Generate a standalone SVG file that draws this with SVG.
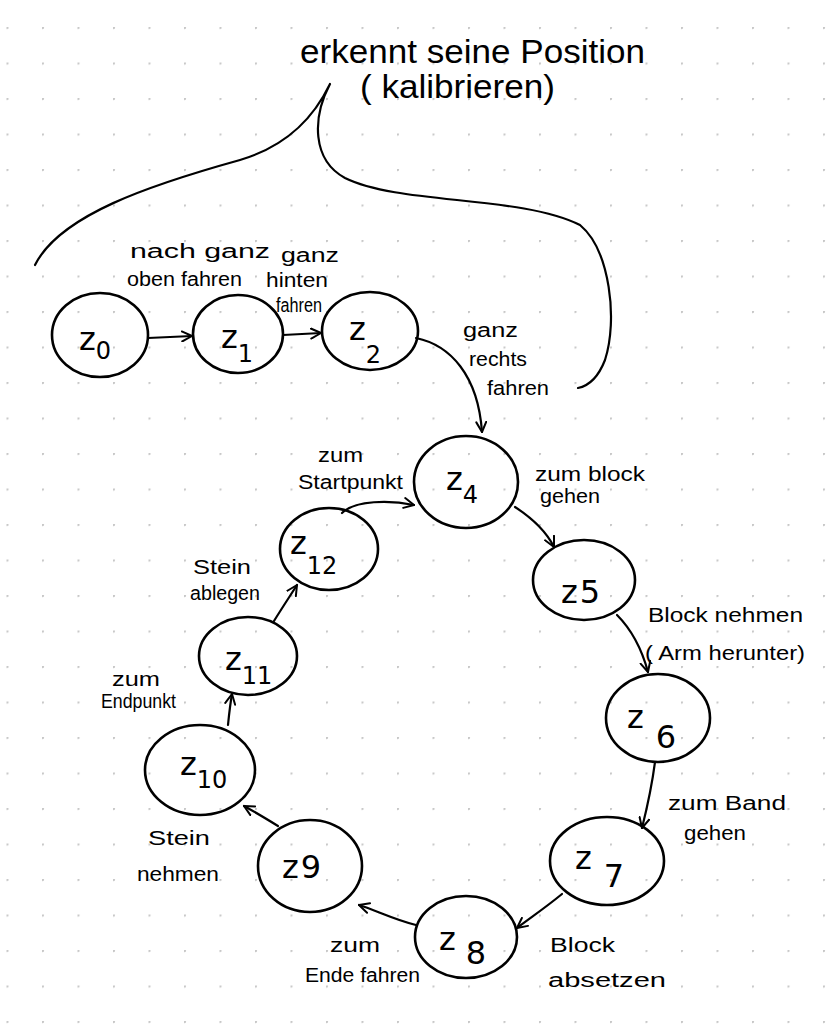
<svg xmlns="http://www.w3.org/2000/svg" width="831" height="1024" viewBox="0 0 831 1024">
<defs>
<pattern id="dots" x="6.5" y="27" width="35.5" height="35.5" patternUnits="userSpaceOnUse">
<circle cx="0.8" cy="0.8" r="1.3" fill="#c8c8c8"/>
</pattern>
<marker id="arr" viewBox="0 0 12 12" refX="11" refY="6" markerWidth="12" markerHeight="12" markerUnits="userSpaceOnUse" orient="auto">
<path d="M1,1 L11,6 L1,11" fill="none" stroke="#000" stroke-width="2" stroke-linecap="round" stroke-linejoin="round"/>
</marker>
<style>
.n{fill:none;stroke:#000;stroke-width:2.6}
.c{fill:none;stroke:#000;stroke-width:2.2;marker-end:url(#arr);stroke-linecap:round}
.b{fill:none;stroke:#000;stroke-width:2.2;stroke-linecap:round;stroke-linejoin:round}
.z{font-family:"DejaVu Sans",sans-serif;font-size:32px;fill:#000}
.s{font-size:24px}
.t{font-family:"Liberation Sans",sans-serif;font-size:20px;fill:#000}
.h{font-family:"Liberation Sans",sans-serif;font-size:34px;fill:#000}
</style>
</defs>
<rect width="831" height="1024" fill="#fff"/>
<rect width="831" height="1024" fill="url(#dots)"/>

<g id="callout">
<path class="b" d="M35,265 C60,215 150,185 240,160 C290,145 315,115 330,84 C312,118 312,160 345,178 C400,205 520,195 580,225 C610,250 618,320 605,360 C598,378 588,386 578,388"/>
<text class="h" x="300" y="63" textLength="345" lengthAdjust="spacingAndGlyphs">erkennt seine Position</text>
<text class="h" x="360" y="98" font-size="28" textLength="195" lengthAdjust="spacingAndGlyphs">( kalibrieren)</text>
</g>

<g id="connectors">
<path class="c" d="M148,338 L192,336"/>
<path class="c" d="M283,335 L321,333"/>
<path class="c" d="M416,338 C450,345 478,375 482,432"/>
<path class="c" d="M515,507 C535,520 548,535 554,547"/>
<path class="c" d="M617,615 C632,630 642,650 648,672"/>
<path class="c" d="M655,762 C652,785 647,808 642,828"/>
<path class="c" d="M562,894 C545,908 530,918 517,928"/>
<path class="c" d="M416,925 C395,920 375,910 359,905"/>
<path class="c" d="M278,826 C265,818 255,812 244,806"/>
<path class="c" d="M228,725 C229,715 230,705 232,694"/>
<path class="c" d="M274,621 C282,608 290,596 297,585"/>
<path class="c" d="M342,513 C355,500 390,500 414,505"/>
</g>

<g id="z0"><ellipse class="n" cx="100" cy="335" rx="48" ry="42"/><text class="z" x="79" y="350">z<tspan class="s" dy="9">0</tspan></text></g>
<g id="z1"><ellipse class="n" cx="238" cy="334" rx="45" ry="39"/><text class="z" x="221" y="348">z<tspan class="s" dy="14">1</tspan></text></g>
<g id="z2"><ellipse class="n" cx="370" cy="331" rx="48" ry="39"/><text class="z" x="349" y="340">z<tspan class="s" dy="23">2</tspan></text></g>
<g id="z4"><ellipse class="n" cx="466" cy="482" rx="52" ry="46"/><text class="z" x="446" y="490">z<tspan class="s" dy="13">4</tspan></text></g>
<g id="z5"><ellipse class="n" cx="584" cy="580" rx="51" ry="40"/><text class="z" x="561" y="603">z<tspan dx="2">5</tspan></text></g>
<g id="z6"><ellipse class="n" cx="658" cy="718" rx="52" ry="44"/><text class="z" x="627" y="728">z<tspan dx="12" dy="20">6</tspan></text></g>
<g id="z7"><ellipse class="n" cx="607" cy="861" rx="57" ry="44"/><text class="z" x="575" y="869">z<tspan dx="12" dy="18">7</tspan></text></g>
<g id="z8"><ellipse class="n" cx="466" cy="937" rx="51" ry="41"/><text class="z" x="439" y="950">z<tspan dx="10" dy="14">8</tspan></text></g>
<g id="z9"><ellipse class="n" cx="310" cy="866" rx="52" ry="46"/><text class="z" x="282" y="878">z<tspan dx="2">9</tspan></text></g>
<g id="z10"><ellipse class="n" cx="200" cy="770" rx="55" ry="45"/><text class="z" x="180" y="775">z<tspan class="s" dy="13">10</tspan></text></g>
<g id="z11"><ellipse class="n" cx="248" cy="656" rx="49" ry="39"/><text class="z" x="225" y="670">z<tspan class="s" dy="14">11</tspan></text></g>
<g id="z12"><ellipse class="n" cx="329" cy="549" rx="49" ry="41"/><text class="z" x="290" y="554">z<tspan class="s" dy="20">12</tspan></text></g>

<g id="labels">
<text class="t" x="130" y="258" textLength="140" lengthAdjust="spacingAndGlyphs">nach ganz</text>
<text class="t" x="127" y="286" textLength="115" lengthAdjust="spacingAndGlyphs">oben fahren</text>
<text class="t" x="281" y="262" textLength="58" lengthAdjust="spacingAndGlyphs">ganz</text>
<text class="t" x="266" y="287" textLength="62" lengthAdjust="spacingAndGlyphs">hinten</text>
<text class="t" x="276" y="312" font-size="16" textLength="46" lengthAdjust="spacingAndGlyphs">fahren</text>
<text class="t" x="463" y="337" textLength="55" lengthAdjust="spacingAndGlyphs">ganz</text>
<text class="t" x="469" y="366" textLength="58" lengthAdjust="spacingAndGlyphs">rechts</text>
<text class="t" x="487" y="395" textLength="62" lengthAdjust="spacingAndGlyphs">fahren</text>
<text class="t" x="318" y="462" textLength="45" lengthAdjust="spacingAndGlyphs">zum</text>
<text class="t" x="298" y="489" textLength="105" lengthAdjust="spacingAndGlyphs">Startpunkt</text>
<text class="t" x="535" y="481" textLength="110" lengthAdjust="spacingAndGlyphs">zum block</text>
<text class="t" x="540" y="503" textLength="60" lengthAdjust="spacingAndGlyphs">gehen</text>
<text class="t" x="193" y="574" textLength="58" lengthAdjust="spacingAndGlyphs">Stein</text>
<text class="t" x="190" y="600" textLength="70" lengthAdjust="spacingAndGlyphs">ablegen</text>
<text class="t" x="648" y="622" font-size="24" textLength="155" lengthAdjust="spacingAndGlyphs">Block nehmen</text>
<text class="t" x="645" y="660" font-size="24" textLength="160" lengthAdjust="spacingAndGlyphs">( Arm herunter)</text>
<text class="t" x="112" y="686" textLength="48" lengthAdjust="spacingAndGlyphs">zum</text>
<text class="t" x="101" y="708" textLength="75" lengthAdjust="spacingAndGlyphs">Endpunkt</text>
<text class="t" x="668" y="810" font-size="24" textLength="118" lengthAdjust="spacingAndGlyphs">zum Band</text>
<text class="t" x="684" y="840" font-size="24" textLength="62" lengthAdjust="spacingAndGlyphs">gehen</text>
<text class="t" x="148" y="845" font-size="26" textLength="62" lengthAdjust="spacingAndGlyphs">Stein</text>
<text class="t" x="137" y="881" font-size="26" textLength="82" lengthAdjust="spacingAndGlyphs">nehmen</text>
<text class="t" x="330" y="952" textLength="50" lengthAdjust="spacingAndGlyphs">zum</text>
<text class="t" x="305" y="982" textLength="115" lengthAdjust="spacingAndGlyphs">Ende fahren</text>
<text class="t" x="550" y="952" font-size="26" textLength="65" lengthAdjust="spacingAndGlyphs">Block</text>
<text class="t" x="548" y="987" font-size="26" textLength="118" lengthAdjust="spacingAndGlyphs">absetzen</text>
</g>
</svg>
